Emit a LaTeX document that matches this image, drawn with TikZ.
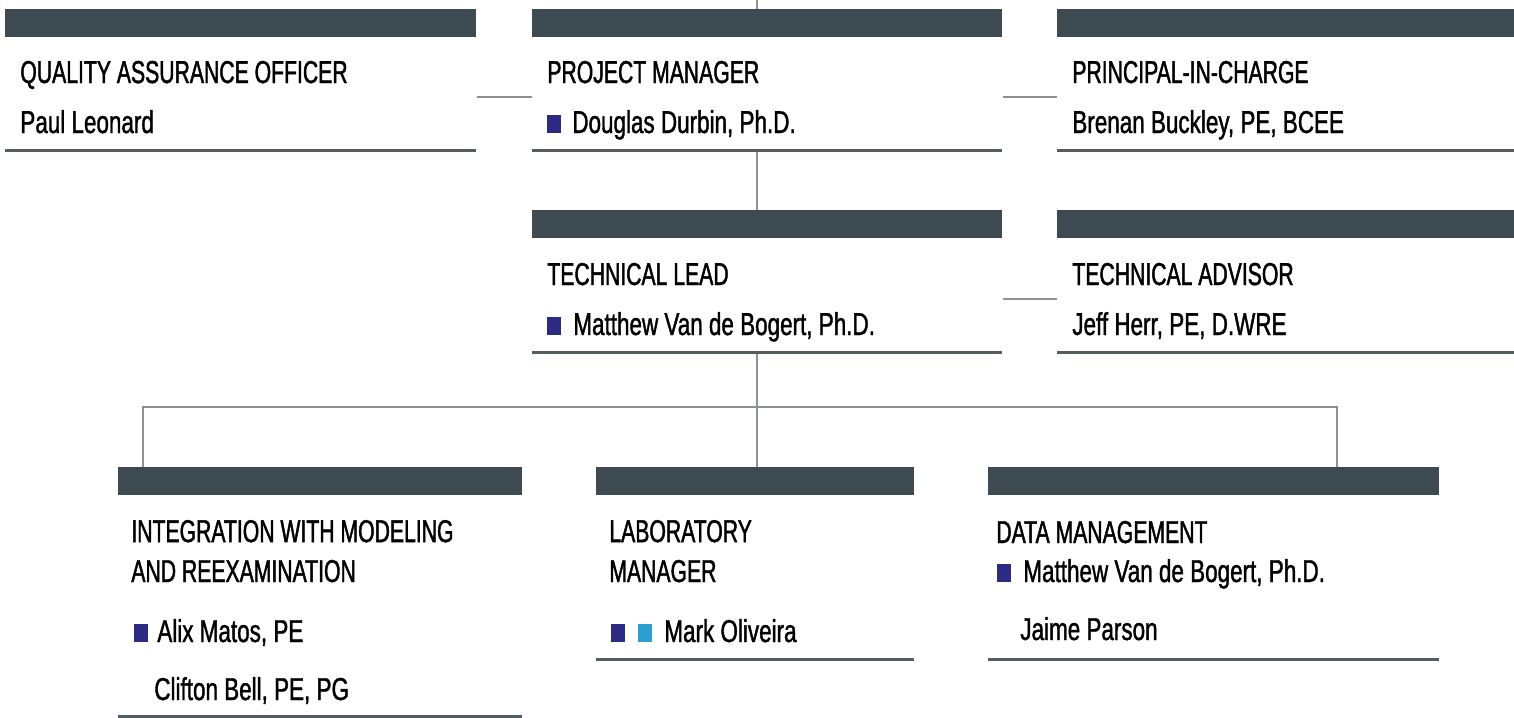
\documentclass[tikz,border=0pt]{standalone}
\usepackage{fontspec}
\setmainfont{Liberation Sans}
\newfontfamily\rolefont{Liberation Sans}[FakeStretch=0.67, FakeBold=1.4]
\newfontfamily\namefont{Liberation Sans}[FakeStretch=0.71, FakeBold=1.2]
\usepackage{tikz}
\usetikzlibrary{calc}

\definecolor{barslate}{HTML}{3E4A52}
\definecolor{rulegray}{HTML}{565D61}
\definecolor{linkgray}{HTML}{8E9193}
\definecolor{keynavy}{HTML}{2D2A86}
\definecolor{keycyan}{HTML}{2A9FD0}

\begin{document}
\begin{tikzpicture}[x=0.02cm, y=0.02cm,
   bar/.style={fill=barslate, inner sep=0pt, anchor=north west, minimum height=0.56cm, minimum width=#1*0.02cm},
   baserule/.style={fill=rulegray, inner sep=0pt, anchor=west, minimum height=0.06cm, minimum width=#1*0.02cm},
   role/.style={anchor=base west, inner sep=0pt, align=left, font=\rolefont\fontsize{18}{22.7}\selectfont},
   person/.style={anchor=base west, inner sep=0pt, font=\namefont\fontsize{18}{20}\selectfont},
   key/.style={fill=#1, inner sep=0pt, anchor=south west, minimum width=0.28cm, minimum height=0.36cm},
   link/.style={draw=linkgray, line width=0.05cm}]

   \useasboundingbox (0,0) rectangle (1514,-717);

   % top row
   \node [bar=471] (qa) at (5,-9) {};
   \node [baserule=471] (qarule) at (5,-150) {};
   \node [role] (qatitle) at (20,-83) {QUALITY ASSURANCE OFFICER};
   \node [person] (qaname) at (20,-133) {Paul Leonard};

   \node [bar=470] (pm) at (532,-9) {};
   \node [baserule=470] (pmrule) at (532,-150) {};
   \node [role] (pmtitle) at (547,-83) {PROJECT MANAGER};
   \node [key=keynavy] (pmkey) at (547,-133) {};
   \node [person] (pmname) at (572,-133) {Douglas Durbin, Ph.D.};

   \node [bar=457] (pic) at (1057,-9) {};
   \node [baserule=457] (picrule) at (1057,-150) {};
   \node [role] (pictitle) at (1072,-83) {PRINCIPAL-IN-CHARGE};
   \node [person] (picname) at (1072,-133) {Brenan Buckley, PE, BCEE};

   % second row
   \node [bar=470] (tl) at (532,-210) {};
   \node [baserule=470] (tlrule) at (532,-352) {};
   \node [role] (tltitle) at (547,-285) {TECHNICAL LEAD};
   \node [key=keynavy] (tlkey) at (547,-335) {};
   \node [person] (tlname) at (573,-335) {Matthew Van de Bogert, Ph.D.};

   \node [bar=457] (ta) at (1057,-210) {};
   \node [baserule=457] (tarule) at (1057,-352) {};
   \node [role] (tatitle) at (1072,-285) {TECHNICAL ADVISOR};
   \node [person] (taname) at (1072,-335) {Jeff Herr, PE, D.WRE};

   % bottom row (two-line titles sit on their last line)
   \node [bar=404] (int) at (118,-467) {};
   \node [baserule=404] (intrule) at (118,-716) {};
   \node [role] (inttitle) at (131,-582) {INTEGRATION WITH MODELING\\AND REEXAMINATION};
   \node [key=keynavy] (intkey) at (134,-642) {};
   \node [person] (intname) at (157,-642) {Alix Matos, PE};
   \node [person] (intnameb) at (154,-700) {Clifton Bell, PE, PG};

   \node [bar=318] (lab) at (596,-467) {};
   \node [baserule=318] (labrule) at (596,-659) {};
   \node [role] (labtitle) at (609,-582) {LABORATORY\\MANAGER};
   \node [key=keynavy] (labkey) at (611,-642) {};
   \node [key=keycyan] (labkeyb) at (638,-642) {};
   \node [person] (labname) at (664,-642) {Mark Oliveira};

   \node [bar=451] (dm) at (988,-467) {};
   \node [baserule=451] (dmrule) at (988,-659) {};
   \node [role] (dmtitle) at (996,-543) {DATA MANAGEMENT};
   \node [key=keynavy] (dmkey) at (997,-582) {};
   \node [person] (dmname) at (1023,-582) {Matthew Van de Bogert, Ph.D.};
   \node [person] (dmnameb) at (1020,-640) {Jaime Parson};

   % connectors
   \coordinate (spine) at (757,0);
   \coordinate (intdrop) at (143,-407);
   \coordinate (dmdrop) at (1337,-407);
   \draw [link] (spine) -- (spine |- pm.north);
   \draw [link] (spine |- pmrule.south) -- (spine |- tl.north);
   \draw [link] (spine |- tlrule.south) -- (spine |- lab.north);
   \draw [link] (intdrop |- int.north) -- (intdrop) -- (dmdrop) -- (dmdrop |- dm.north);
   \draw [link] ($(qa.south east)!.53!(qarule.east)$) -- ($(pm.south west)!.53!(pmrule.west)$);
   \draw [link] ($(pm.south east)!.53!(pmrule.east)$) -- ($(pic.south west)!.53!(picrule.west)$);
   \draw [link] ($(tl.south east)!.53!(tlrule.east)$) -- ($(ta.south west)!.53!(tarule.west)$);

\end{tikzpicture}
\end{document}
